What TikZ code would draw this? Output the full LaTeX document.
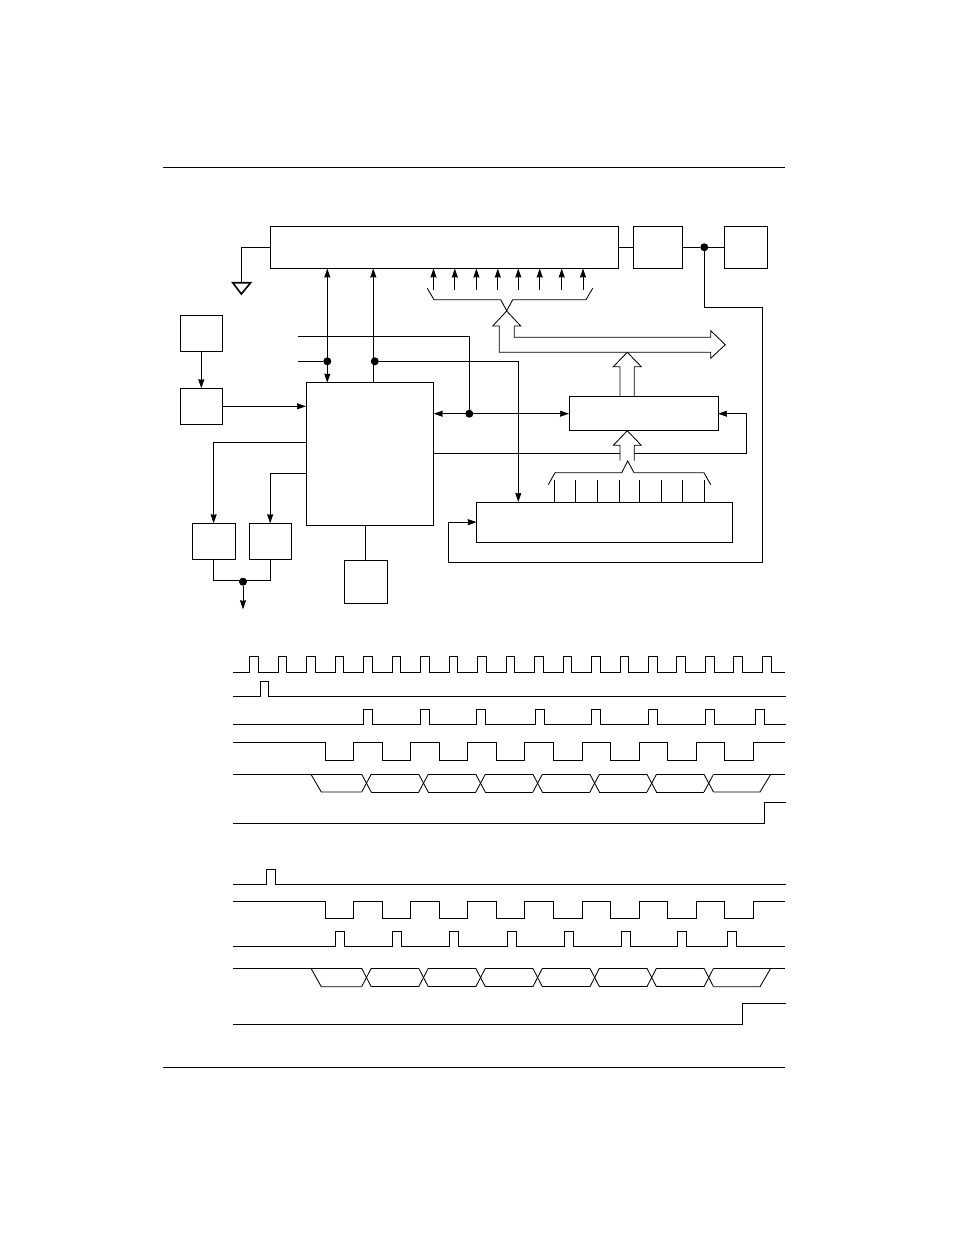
\documentclass[tikz,border=0pt]{standalone}
\usetikzlibrary{arrows.meta,fit}
\tikzset{
	blockbox/.style={draw, inner sep=0pt, outer sep=0pt},
	dotnode/.style={circle, fill=black, inner sep=0pt, outer sep=0pt, minimum size=8pt},
}
\begin{document}
\begin{tikzpicture}[x=1pt, y=-1pt, line width=.85pt, >={Stealth[length=9pt, width=6pt, inset=.5pt]}]
	\useasboundingbox (0,0) rectangle (954,1235);

	% page rules
	\draw (163,167.5) -- (785,167.5);
	\draw (163,1067) -- (785,1067);

	% blocks
	\node[blockbox, fit={(270,226) (618.5,268.5)}] (srreg) {};
	\node[blockbox, fit={(633.3,226) (682.3,268.5)}] (midbox) {};
	\node[blockbox, fit={(724.3,226) (767.3,268.5)}] (endbox) {};
	\node[blockbox, fit={(180.3,315.3) (222.3,351.3)}] (clkbox) {};
	\node[blockbox, fit={(180.3,388.3) (222.3,424.3)}] (divbox) {};
	\node[blockbox, fit={(306,382.7) (433.7,525)}] (ctrlbox) {};
	\node[blockbox, fit={(192.3,523.3) (235,559)}] (gateA) {};
	\node[blockbox, fit={(249,523.3) (291.3,559)}] (gateB) {};
	\node[blockbox, fit={(344.3,560.3) (387.3,603.3)}] (resbox) {};
	\node[blockbox, fit={(569,396.7) (718,430.7)}] (holdreg) {};
	\node[blockbox, fit={(476.7,502) (732.7,542.3)}] (parreg) {};

	% junctions
	\node[dotnode] (dotA) at (327.3,361.3) {};
	\node[dotnode] (dotB) at (374.8,361.3) {};
	\node[dotnode] (dotC) at (469.3,413.7) {};
	\node[dotnode] (dotD) at (704.3,247.25) {};
	\node[dotnode] (dotE) at (243,581.7) {};

	% free ends and corners
	\coordinate (gnd) at (241.3,282.7);
	\coordinate (loadin) at (298.3,336);
	\coordinate (serin) at (298.3,361.3);
	\coordinate (upB) at (373.3,325);
	\coordinate (parin) at (518.3,502);
	\coordinate (tapA) at (306,442.3);
	\coordinate (tapB) at (306,473.3);
	\coordinate (fbL) at (620,453.3);
	\coordinate (fbR) at (634.3,453.3);
	\coordinate (fbC) at (746.7,453.3);
	\coordinate (retA) at (762.3,307.3);
	\coordinate (retB) at (762.3,562.3);
	\coordinate (retC) at (448,562.3);
	\coordinate (outE) at (243,609.3);

	% ground
	\draw (srreg.west) -| (gnd);
	\draw[line width=1.6pt] (gnd) ++(-8.6,0) -- ++(18,0) -- ++(-9.4,11.3) -- cycle;

	% top row
	\draw (srreg.east) -- (midbox.west);
	\draw (midbox.east) -- (dotD) -- (endbox.west);

	% return line
	\draw[->] (dotD) |- (retA) -- (retB) -- (retC) |- (parreg.west);

	% clock chain
	\draw[->] (clkbox) -- (divbox);
	\draw[->] (divbox.east) -- (divbox.east -| ctrlbox.west);

	% control lines
	\draw[<->] (dotA |- srreg.south) -- (dotA |- ctrlbox.north);
	\draw[->] (upB |- ctrlbox.north) -- (upB |- srreg.south);
	\draw (serin) -- (dotA);
	\draw (loadin) -| (dotC);
	\draw[->] (dotB) -| (parin);
	\draw[<->] (ctrlbox.east |- dotC) -- (holdreg.west);
	\draw (ctrlbox.east |- fbL) -- (fbL);
	\draw[->] (fbR) -- (fbC) |- (holdreg.east);

	% gates
	\draw[->] (tapA) -| (gateA.north);
	\draw[->] (tapB) -| (gateB.north);
	\draw (gateA.south) -- ++(0,21.3) -| (gateB.south);
	\draw[->] (dotE) -- (outE);
	\draw (ctrlbox.south -| resbox.north) -- (resbox.north);

	% top inputs
	\foreach \px in {433.5,454.8,476.4,497.8,518.3,539.7,561.7,583}
		\draw[->] (\px,290) -- (\px,0 |- srreg.south);

	% top brace
	\draw (427.3,288.3) -- (434,299.7) -- (500.7,299.7) -- (506.7,310.7) -- (512.7,299.7) -- (586,299.7) -- (592.7,288.3);

	% wide bus
	\draw (506.7,311) -- (492.7,326) -- (499.3,326) -- (499.3,352.3) -- (710.7,352.3) -- (710.7,358.3) -- (725.3,344.7) -- (710.7,330.7) -- (710.7,337.3) -- (514.3,337.3) -- (514.3,326) -- (520.7,326) -- cycle;

	% register to bus
	\draw (620,396.7) -- (620,366.7) -- (613.3,366.7) -- (627.3,352.3) -- (641.3,366.7) -- (634.3,366.7) -- (634.3,396.7);

	% bus to register
	\draw (620,460.7) -- (620,445.3) -- (613.3,445.3) -- (627.3,430.7) -- (641.3,445.3) -- (634.3,445.3) -- (634.3,460.7);

	% lower brace
	\draw (548.3,484.7) -- (555,472.7) -- (621.7,472.7) -- (627.7,461) -- (634,472.7) -- (704,472.7) -- (710.7,484.7);

	% lower inputs
	\foreach \px in {554.3,575.3,597.3,619.3,639.3,661.3,682.3,704.3}
		\draw (\px,480) -- (\px,0 |- parreg.north);

	% clock wave
	\draw (233,672.3) foreach \i in {0,...,18} {
		-- ({249.7+28.48*\i},672.3) -- ({249.7+28.48*\i},656.3) -- ({258.4+28.48*\i},656.3) -- ({258.4+28.48*\i},672.3)
	} -- (785,672.3);

	% start pulses
	\draw (233,696.3) -- (260.3,696.3) -- (260.3,681) -- (268.7,681) -- (268.7,696.3) -- (785.7,696.3);
	\draw (233,884.3) -- (266.3,884.3) -- (266.3,869.3) -- (275.7,869.3) -- (275.7,884.3) -- (785.7,884.3);

	% latch pulses
	\draw (233,724.3) foreach \r in {363.3,420.3,476.7,535.3,591.3,648.3,705.7,755.3} {
		-- (\r,724.3) -- (\r,709) -- ({\r+8.9},709) -- ({\r+8.9},724.3)
	} -- (785.7,724.3);
	\draw (233,946.3) foreach \r in {335.3,392.3,449.7,507.3,564.3,621.7,677.7,727.7} {
		-- (\r,946.3) -- (\r,931.3) -- ({\r+8.9},931.3) -- ({\r+8.9},946.3)
	} -- (785,946.3);

	% shift waves
	\foreach \yhi/\ylo in {742.3/760.3, 901.3/918.3} {
		\draw (233,\yhi) foreach \k in {0,...,7} {
			-- ({325.3+57.07*\k},\yhi) -- ({325.3+57.07*\k},\ylo) -- ({353.7+57.07*\k},\ylo) -- ({353.7+57.07*\k},\yhi)
		} -- (785,\yhi);
	}

	% data waves
	\foreach \ytop/\ybot in {774.3/792, 968.3/986.7} {
		\draw (233,\ytop) -- (361.7,\ytop);
		\draw (311,\ytop) -- (321.3,\ybot) -- (361.7,\ybot);
		\foreach \k in {0,...,6} {
			\draw ({361.7+57.05*\k},\ytop) -- ({371.2+57.05*\k},\ybot);
			\draw ({361.7+57.05*\k},\ybot) -- ({371.2+57.05*\k},\ytop);
		}
		\foreach \k in {0,...,5} {
			\draw ({371.2+57.05*\k},\ytop) -- ({418.75+57.05*\k},\ytop);
			\draw ({371.2+57.05*\k},\ybot) -- ({418.75+57.05*\k},\ybot);
		}
		\draw (713.5,\ytop) -- (785,\ytop);
		\draw (713.5,\ybot) -- (760,\ybot) -- (770.7,\ytop);
	}

	% done waves
	\draw (233,823.3) -- (764.3,823.3) -- (764.3,802.3) -- (785.7,802.3);
	\draw (233,1024.3) -- (742.3,1024.3) -- (742.3,1003.3) -- (786,1003.3);
\end{tikzpicture}
\end{document}
